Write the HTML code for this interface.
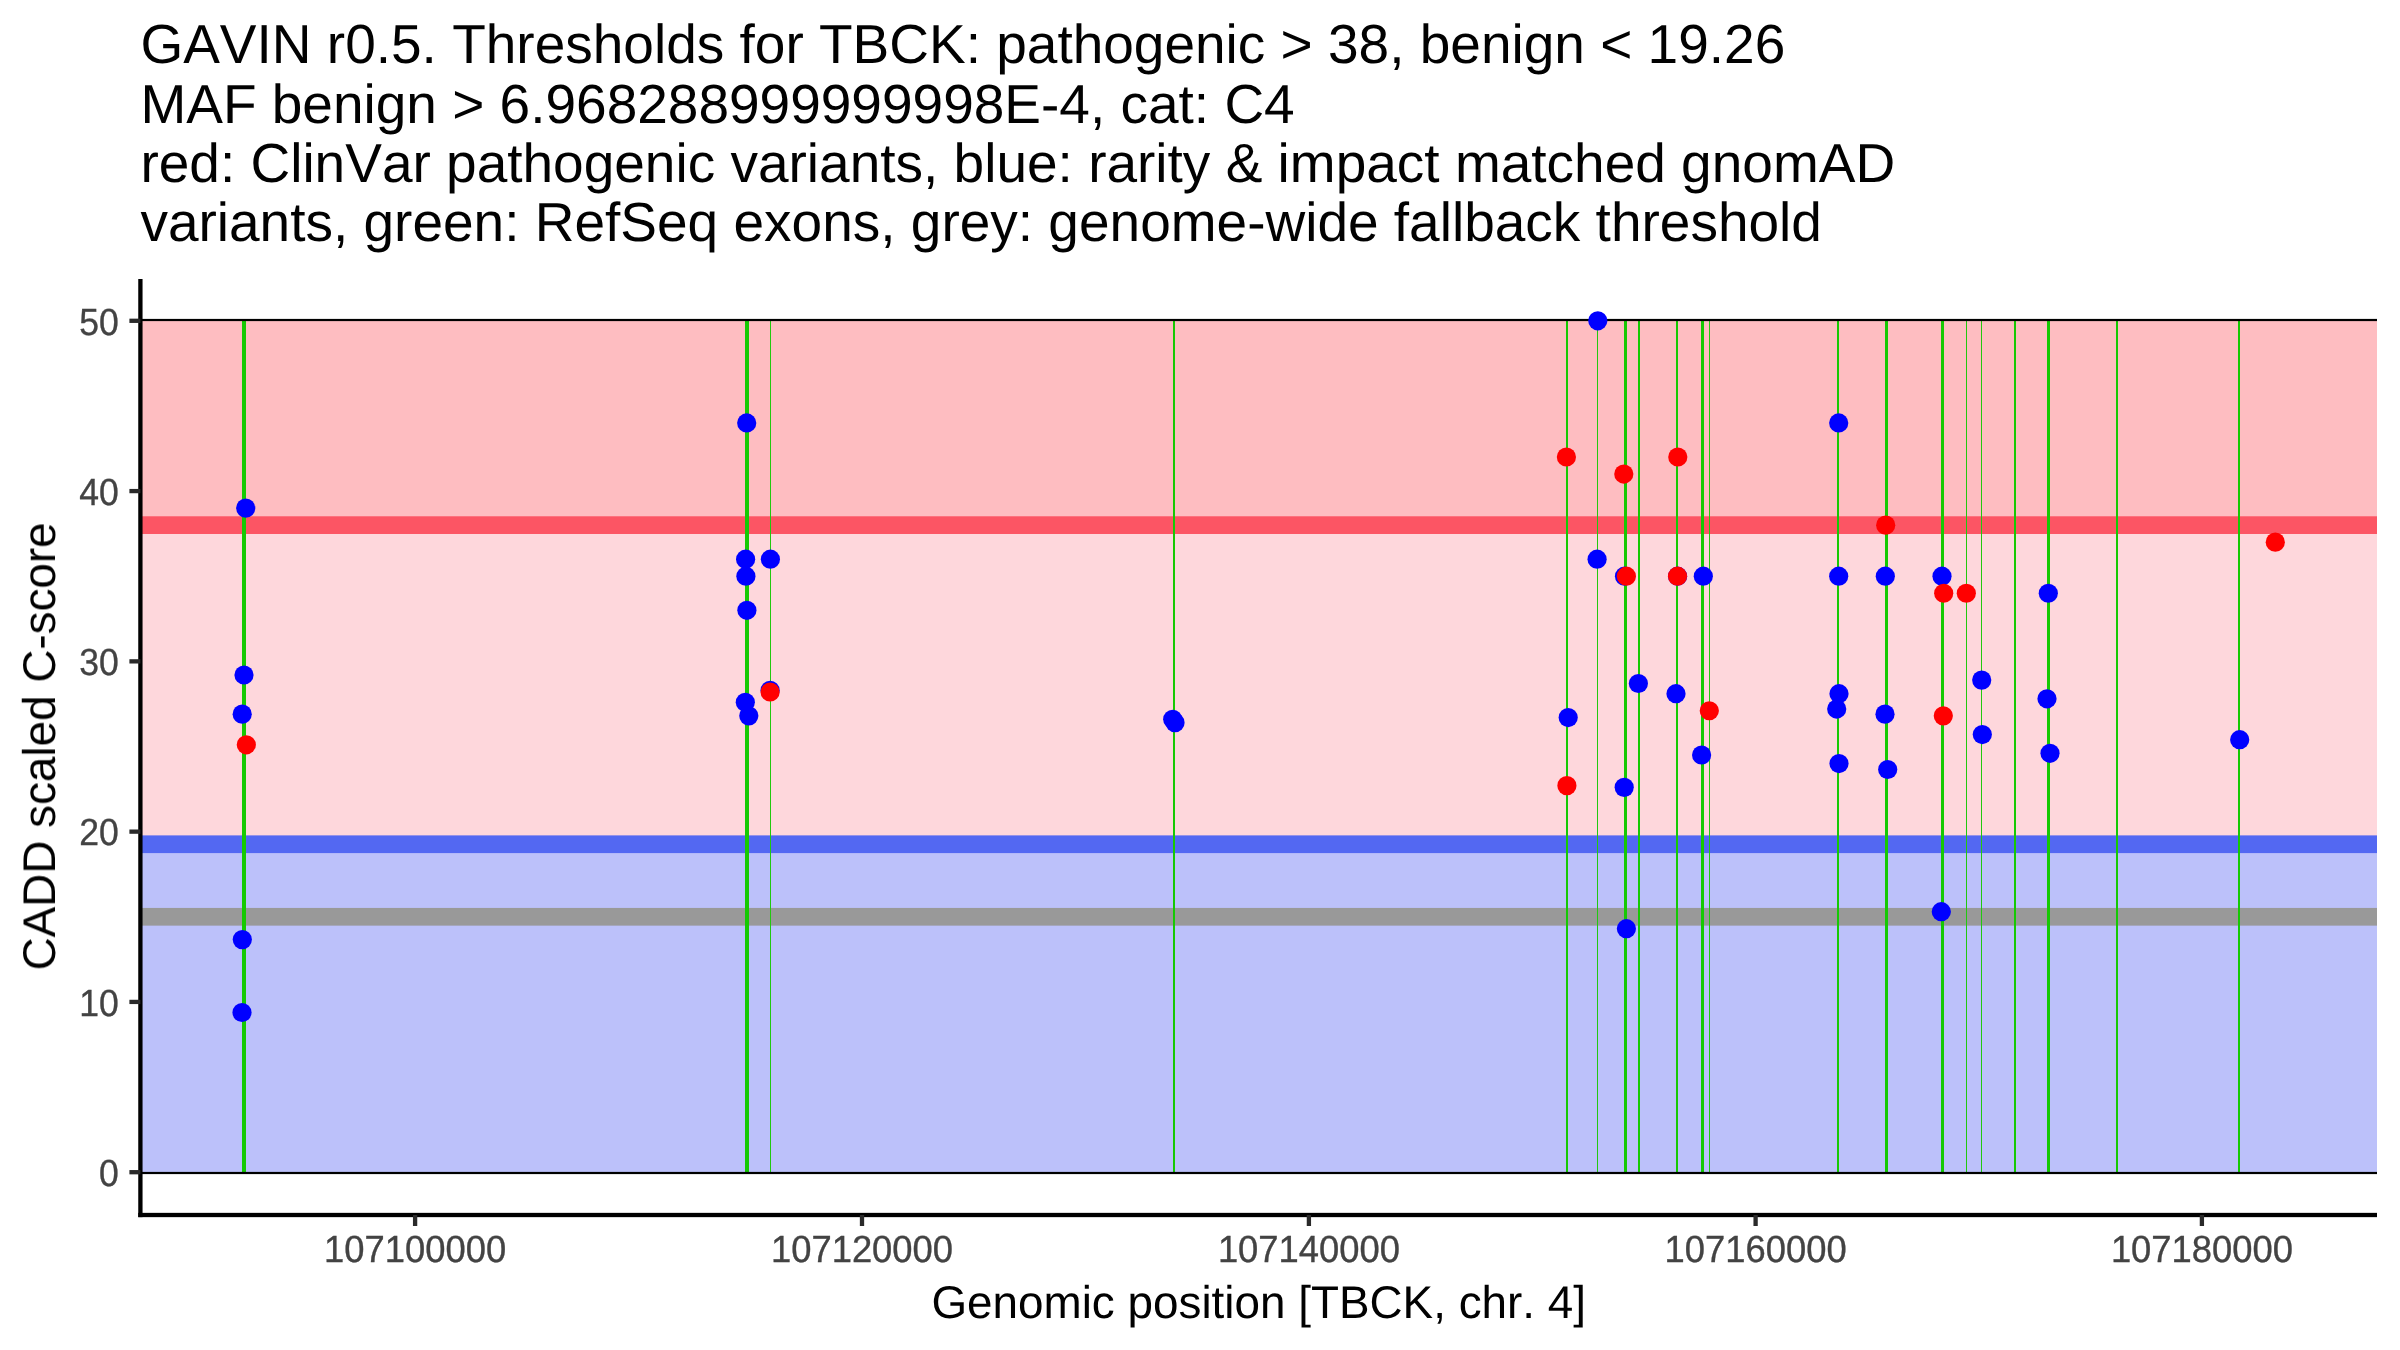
<!DOCTYPE html>
<html><head><meta charset="utf-8"><title>GAVIN TBCK</title>
<style>
html,body{margin:0;padding:0;background:#fff;}
body{width:2400px;height:1350px;overflow:hidden;}
svg{display:block;}
.t{opacity:0.999;}
text{font-family:"Liberation Sans",sans-serif;font-kerning:none;text-rendering:geometricPrecision;}
</style></head><body>
<svg width="2400" height="1350" viewBox="0 0 2400 1350">
<rect x="0" y="0" width="2400" height="1350" fill="#ffffff"/>
<g shape-rendering="crispEdges">
<rect x="140.4" y="320.00" width="2236.6" height="205.14" fill="#febdc1"/>
<rect x="140.4" y="525.14" width="2236.6" height="319.10" fill="#fed7dc"/>
<rect x="140.4" y="844.24" width="2236.6" height="328.76" fill="#bcc1fa"/>
</g>
<rect x="140.4" y="907.93" width="2236.6" height="17.70" fill="#999999"/>
<rect x="140.4" y="516.29" width="2236.6" height="17.70" fill="#fc5564"/>
<rect x="140.4" y="835.39" width="2236.6" height="17.70" fill="#5368f2"/>
<g shape-rendering="crispEdges">
<rect x="242" y="321" width="4" height="851" fill="#16c903"/>
<rect x="745" y="321" width="4" height="851" fill="#16c903"/>
<rect x="770" y="321" width="1" height="851" fill="#22c80f"/>
<rect x="1173" y="321" width="2" height="851" fill="#16c903"/>
<rect x="1566" y="321" width="2" height="851" fill="#16c903"/>
<rect x="1597" y="321" width="1" height="851" fill="#22c80f"/>
<rect x="1624" y="321" width="3" height="851" fill="#16c903"/>
<rect x="1638" y="321" width="2" height="851" fill="#16c903"/>
<rect x="1676" y="321" width="2" height="851" fill="#16c903"/>
<rect x="1701" y="321" width="3" height="851" fill="#16c903"/>
<rect x="1709" y="321" width="1" height="851" fill="#22c80f"/>
<rect x="1837" y="321" width="2" height="851" fill="#16c903"/>
<rect x="1885" y="321" width="3" height="851" fill="#16c903"/>
<rect x="1941" y="321" width="3" height="851" fill="#16c903"/>
<rect x="1966" y="321" width="1" height="851" fill="#22c80f"/>
<rect x="1981" y="321" width="1" height="851" fill="#22c80f"/>
<rect x="2014" y="321" width="2" height="851" fill="#16c903"/>
<rect x="2047" y="321" width="3" height="851" fill="#16c903"/>
<rect x="2116" y="321" width="2" height="851" fill="#16c903"/>
<rect x="2238" y="321" width="2" height="851" fill="#16c903"/>
</g>
<rect x="140.4" y="318.90" width="2236.6" height="2.20" fill="#000"/>
<rect x="140.4" y="1171.90" width="2236.6" height="2.20" fill="#000"/>
<g fill="#0000ff">
<circle cx="245.7" cy="508.11" r="9.6"/>
<circle cx="244.0" cy="674.98" r="9.6"/>
<circle cx="242.2" cy="714.15" r="9.6"/>
<circle cx="242.3" cy="939.60" r="9.6"/>
<circle cx="242.0" cy="1012.48" r="9.6"/>
<circle cx="746.7" cy="422.97" r="9.6"/>
<circle cx="745.6" cy="559.19" r="9.6"/>
<circle cx="770.4" cy="559.19" r="9.6"/>
<circle cx="745.9" cy="576.22" r="9.6"/>
<circle cx="746.9" cy="610.28" r="9.6"/>
<circle cx="770.1" cy="690.31" r="9.6"/>
<circle cx="745.3" cy="702.23" r="9.6"/>
<circle cx="748.8" cy="715.85" r="9.6"/>
<circle cx="1172.7" cy="719.26" r="9.6"/>
<circle cx="1175.0" cy="722.66" r="9.6"/>
<circle cx="1597.8" cy="320.80" r="9.6"/>
<circle cx="1597.1" cy="559.19" r="9.6"/>
<circle cx="1624.5" cy="576.22" r="9.6"/>
<circle cx="1677.6" cy="576.22" r="9.6"/>
<circle cx="1703.3" cy="576.22" r="9.6"/>
<circle cx="1638.4" cy="683.50" r="9.6"/>
<circle cx="1676.0" cy="693.71" r="9.6"/>
<circle cx="1568.2" cy="717.55" r="9.6"/>
<circle cx="1701.6" cy="755.01" r="9.6"/>
<circle cx="1624.2" cy="787.37" r="9.6"/>
<circle cx="1626.4" cy="928.70" r="9.6"/>
<circle cx="1838.7" cy="422.97" r="9.6"/>
<circle cx="1838.7" cy="576.22" r="9.6"/>
<circle cx="1885.3" cy="576.22" r="9.6"/>
<circle cx="1942.0" cy="576.22" r="9.6"/>
<circle cx="2048.3" cy="593.25" r="9.6"/>
<circle cx="1981.7" cy="680.09" r="9.6"/>
<circle cx="1839.0" cy="693.71" r="9.6"/>
<circle cx="1836.7" cy="709.04" r="9.6"/>
<circle cx="2047.0" cy="698.82" r="9.6"/>
<circle cx="1885.0" cy="714.15" r="9.6"/>
<circle cx="1982.3" cy="734.58" r="9.6"/>
<circle cx="2050.0" cy="753.31" r="9.6"/>
<circle cx="1839.0" cy="763.53" r="9.6"/>
<circle cx="1887.7" cy="769.49" r="9.6"/>
<circle cx="1941.3" cy="911.67" r="9.6"/>
<circle cx="2239.7" cy="739.69" r="9.6"/>
</g>
<g fill="#ff0000">
<circle cx="246.3" cy="744.80" r="9.6"/>
<circle cx="770.1" cy="692.01" r="9.6"/>
<circle cx="1566.4" cy="457.02" r="9.6"/>
<circle cx="1623.8" cy="474.05" r="9.6"/>
<circle cx="1677.8" cy="457.02" r="9.6"/>
<circle cx="1626.4" cy="576.22" r="9.6"/>
<circle cx="1677.5" cy="576.22" r="9.6"/>
<circle cx="1709.3" cy="710.74" r="9.6"/>
<circle cx="1566.9" cy="785.66" r="9.6"/>
<circle cx="1885.7" cy="525.14" r="9.6"/>
<circle cx="1943.7" cy="593.25" r="9.6"/>
<circle cx="1966.3" cy="593.25" r="9.6"/>
<circle cx="1943.3" cy="715.85" r="9.6"/>
<circle cx="2275.3" cy="542.16" r="9.6"/>
</g>
<rect x="138.25" y="279.00" width="4.30" height="938.15" fill="#000"/>
<rect x="138.25" y="1212.85" width="2238.75" height="4.30" fill="#000"/>
<g fill="#2a2a2a">
<rect x="412.95" y="1215.00" width="4.30" height="11.00"/>
<rect x="859.85" y="1215.00" width="4.30" height="11.00"/>
<rect x="1306.75" y="1215.00" width="4.30" height="11.00"/>
<rect x="1753.45" y="1215.00" width="4.30" height="11.00"/>
<rect x="2199.75" y="1215.00" width="4.30" height="11.00"/>
<rect x="129.40" y="1170.05" width="11.00" height="4.30"/>
<rect x="129.40" y="999.77" width="11.00" height="4.30"/>
<rect x="129.40" y="829.49" width="11.00" height="4.30"/>
<rect x="129.40" y="659.21" width="11.00" height="4.30"/>
<rect x="129.40" y="488.93" width="11.00" height="4.30"/>
<rect x="129.40" y="318.65" width="11.00" height="4.30"/>
</g>
<g class="t">
<g fill="#434343" stroke="#434343" stroke-width="0.35" font-size="36.67">
<text transform="translate(415.1,1262.2) scale(0.992,1.03)" text-anchor="middle">107100000</text>
<text transform="translate(862.0,1262.2) scale(0.992,1.03)" text-anchor="middle">107120000</text>
<text transform="translate(1308.9,1262.2) scale(0.992,1.03)" text-anchor="middle">107140000</text>
<text transform="translate(1755.6,1262.2) scale(0.992,1.03)" text-anchor="middle">107160000</text>
<text transform="translate(2201.9,1262.2) scale(0.992,1.03)" text-anchor="middle">107180000</text>
<text transform="translate(118.7,1185.90) scale(0.97,1.03)" text-anchor="end">0</text>
<text transform="translate(118.7,1016.20) scale(0.97,1.03)" text-anchor="end">10</text>
<text transform="translate(118.7,845.30) scale(0.97,1.03)" text-anchor="end">20</text>
<text transform="translate(118.7,675.30) scale(0.97,1.03)" text-anchor="end">30</text>
<text transform="translate(118.7,505.30) scale(0.97,1.03)" text-anchor="end">40</text>
<text transform="translate(118.7,335.30) scale(0.97,1.03)" text-anchor="end">50</text>
</g>
<text x="1258.7" y="1317.6" font-size="45.83" text-anchor="middle" fill="#000">Genomic position [TBCK, chr. 4]</text>
<text transform="translate(55.0,746.4) rotate(-90)" font-size="45.83" text-anchor="middle" fill="#000">CADD scaled C-score</text>
<g font-size="55" fill="#000">
<text x="140.4" y="63.3">GAVIN r0.5. Thresholds for TBCK: pathogenic &gt; 38, benign &lt; 19.26</text>
<text x="140.4" y="122.6">MAF benign &gt; 6.968288999999998E-4, cat: C4</text>
<text x="140.4" y="182.0">red: ClinVar pathogenic variants, blue: rarity &amp; impact matched gnomAD</text>
<text x="140.4" y="241.3">variants, green: RefSeq exons, grey: genome-wide fallback threshold</text>
</g>
</g>
</svg></body></html>
